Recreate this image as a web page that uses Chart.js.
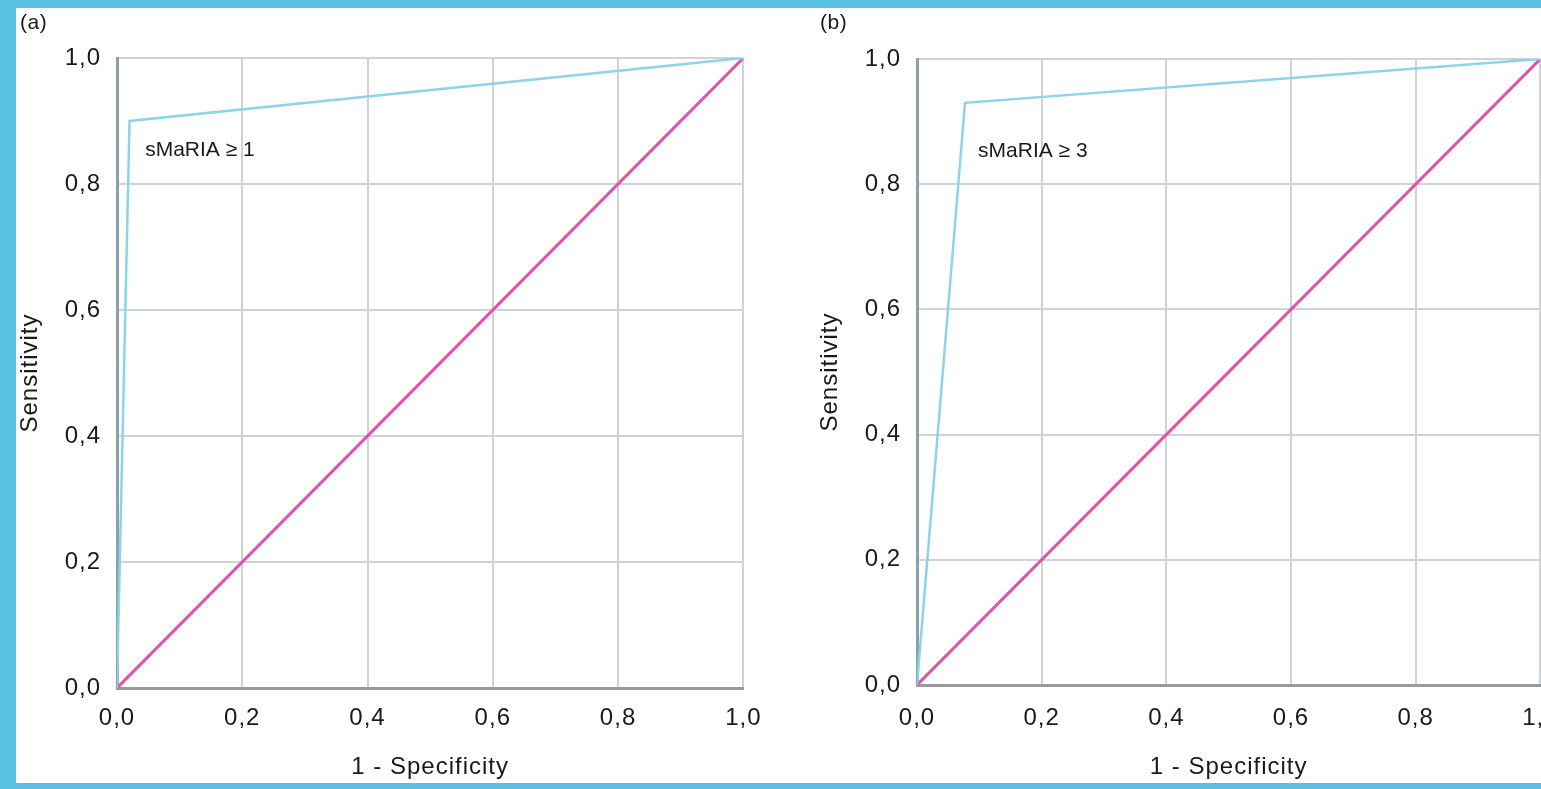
<!DOCTYPE html>
<html>
<head>
<meta charset="utf-8">
<script src="https://cdn.jsdelivr.net/npm/chart.js@4"></script>
<style>
  html, body { margin:0; padding:0; width:1541px; height:789px; overflow:hidden; background:rgb(88,193,225); }
  #panel { position:absolute; left:16px; top:8px; width:1525px; height:775px; background:#fff; }
  canvas { position:absolute; }
  .lab { position:absolute; font-family:"Liberation Sans", Arial, sans-serif; font-size:21px; color:#1a1a1a; letter-spacing:0.5px; }
</style>
</head>
<body>
<div id="panel"></div>
<canvas id="ca" width="760" height="775" style="left:16px; top:8px;"></canvas>
<canvas id="cb" width="760" height="775" style="left:816px; top:8px;"></canvas>
<div class="lab" style="left:20px; top:10px;">(a)</div>
<div class="lab" style="left:820px; top:10px;">(b)</div>
<script>
// ---- data ----
const tickValues = [0, 0.2, 0.4, 0.6, 0.8, 1.0];
const tickLabels = ['0,0', '0,2', '0,4', '0,6', '0,8', '1,0'];
const rocAx = [0, 0.02, 1];
const rocAy = [0, 0.90, 1];
const rocBx = [0, 0.077, 1];
const rocBy = [0, 0.93, 1];
const diagX = [0, 1];
const diagY = [0, 1];
const labelA = 'sMaRIA \u2265 1';
const labelB = 'sMaRIA \u2265 3';
const annA = [0.045, 0.854];
const annB = [0.098, 0.853];
const xTitle = '1 - Specificity';
const yTitle = 'Sensitivity';

const FONT = '"Liberation Sans", Arial, sans-serif';
const TXT = '#1a1a1a';
const toPts = (xs, ys) => xs.map((x, i) => ({x: x, y: ys[i]}));

function makeChart(id, rx, ry, label, ann, geo) {
  const spacingPlugin = {
    id: 'spacing',
    beforeDraw(chart) { chart.ctx.letterSpacing = '1px'; }
  };
  const annPlugin = {
    id: 'ann',
    afterDatasetsDraw(chart) {
      const ctx = chart.ctx;
      const xs = chart.scales.x, ys = chart.scales.y;
      ctx.save();
      ctx.letterSpacing = '0px';
      ctx.font = '21px ' + FONT;
      ctx.fillStyle = TXT;
      ctx.textAlign = 'left';
      ctx.textBaseline = 'middle';
      ctx.fillText(label, xs.getPixelForValue(ann[0]), ys.getPixelForValue(ann[1]));
      ctx.restore();
    }
  };
  return new Chart(document.getElementById(id), {
    type: 'scatter',
    data: {
      datasets: [
        { data: toPts(diagX, diagY), showLine: true, borderColor: 'rgb(222,84,170)', borderWidth: 3, pointRadius: 0, order: 1 },
        { data: toPts(rx, ry), showLine: true, borderColor: 'rgb(140,212,232)', borderWidth: 2.5, pointRadius: 0, order: 0 }
      ]
    },
    plugins: [spacingPlugin, annPlugin],
    options: {
      responsive: false,
      animation: false,
      devicePixelRatio: 1,
      layout: { padding: { left: 0, top: geo.top, right: geo.right, bottom: 0 } },
      plugins: { legend: { display: false }, tooltip: { enabled: false } },
      scales: {
        x: {
          type: 'linear', min: 0, max: 1,
          afterBuildTicks(s) { s.ticks = tickValues.map(v => ({value: v})); },
          afterFit(s) { s.height = geo.xh; },
          ticks: {
            padding: geo.xpad, color: TXT, font: { family: FONT, size: 24 },
            callback: (v) => tickLabels[tickValues.findIndex(t => Math.abs(t - v) < 1e-6)]
          },
          grid: { color: 'rgb(208,211,213)', lineWidth: 2, drawTicks: false },
          border: { color: 'rgb(150,155,158)', width: 3 },
          title: { display: true, text: xTitle, color: TXT, font: { family: FONT, size: 24 }, padding: { top: 0, bottom: 1 } }
        },
        y: {
          type: 'linear', min: 0, max: 1,
          afterBuildTicks(s) { s.ticks = tickValues.map(v => ({value: v})); },
          afterFit(s) { s.width = 101; },
          ticks: {
            padding: 16, color: TXT, font: { family: FONT, size: 24 },
            callback: (v) => tickLabels[tickValues.findIndex(t => Math.abs(t - v) < 1e-6)]
          },
          grid: { color: 'rgb(208,211,213)', lineWidth: 2, drawTicks: false },
          border: { color: 'rgb(140,160,170)', width: 3 },
          title: { display: true, text: yTitle, color: TXT, font: { family: FONT, size: 24 }, padding: { top: 0, bottom: 0 } }
        }
      }
    }
  });
}

makeChart('ca', rocAx, rocAy, labelA, annA, { top: 50, right: 30, xh: 95, xpad: 16 });
makeChart('cb', rocBx, rocBy, labelB, annB, { top: 51, right: 35, xh: 98, xpad: 19 });
</script>
</body>
</html>
